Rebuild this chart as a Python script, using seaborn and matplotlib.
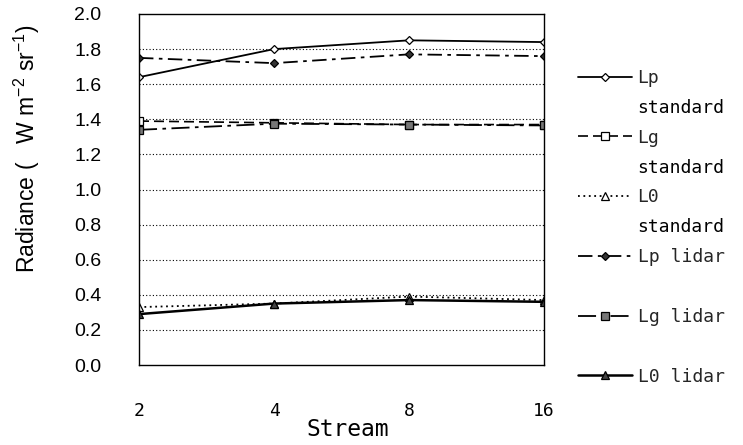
import numpy as np
import pandas as pd
import matplotlib
matplotlib.use("Agg")
import matplotlib.pyplot as plt
import seaborn as sns

# ---- data ----
streams = [2, 4, 8, 16]
lp_standard = [1.64, 1.80, 1.85, 1.84]
lg_standard = [1.39, 1.38, 1.37, 1.37]
l0_standard = [0.33, 0.35, 0.39, 0.37]
lp_lidar = [1.75, 1.72, 1.77, 1.76]
lg_lidar = [1.34, 1.375, 1.37, 1.365]
l0_lidar = [0.29, 0.35, 0.37, 0.36]
series_names = ["Lp\nstandard", "Lg\nstandard", "L0\nstandard",
                "Lp lidar", "Lg lidar", "L0 lidar"]
y_ticks = [0.0, 0.2, 0.4, 0.6, 0.8, 1.0, 1.2, 1.4, 1.6, 1.8, 2.0]
x_tick_labels = ["2", "4", "8", "16"]

all_values = [lp_standard, lg_standard, l0_standard, lp_lidar, lg_lidar, l0_lidar]
df = pd.DataFrame({
    "Stream": streams * len(series_names),
    "Radiance": sum(all_values, []),
    "Series": sum([[n] * len(streams) for n in series_names], []),
})

styles = {
    "Lp\nstandard": dict(ls="-", marker="D", ms=4.5, mfc="white", mec="black", lw=1.3),
    "Lg\nstandard": dict(ls=(0, (6, 3)), marker="s", ms=6, mfc="white", mec="black", lw=1.2),
    "L0\nstandard": dict(ls=(0, (1, 2)), marker="^", ms=6, mfc="white", mec="black", lw=1.3),
    "Lp lidar": dict(ls=(0, (8, 3, 2, 3)), marker="D", ms=4.5, mfc="#333333", mec="black", lw=1.3),
    "Lg lidar": dict(ls=(0, (10, 3, 2, 3)), marker="s", ms=6, mfc="#777777", mec="black", lw=1.3),
    "L0 lidar": dict(ls="-", marker="^", ms=6, mfc="#444444", mec="black", lw=1.8),
}

sns.set_theme(style="white")
plt.rcParams["font.family"] = ["Liberation Sans", "DejaVu Sans"]
plt.rcParams["mathtext.default"] = "regular"

fig = plt.figure(figsize=(7.43, 4.45), dpi=100)
ax = fig.add_axes([139 / 743, 80 / 445, (544 - 139) / 743, (365 - 14) / 445])
ax.set_xscale("log", base=2)

for name in series_names:
    st = styles[name]
    sub = df[df["Series"] == name]
    sns.lineplot(data=sub, x="Stream", y="Radiance", ax=ax, color="black",
                 linestyle=st["ls"], linewidth=st["lw"], marker=st["marker"],
                 markersize=st["ms"], markerfacecolor=st["mfc"],
                 markeredgecolor=st["mec"], markeredgewidth=0.9,
                 label=name.split("\n")[0], legend=False)

ax.set_xlim(2, 16)
ax.set_ylim(0, 2.0)
ax.set_yticks(y_ticks)
ax.set_yticklabels([f"{v:.1f}" for v in y_ticks])
ax.set_xticks(streams)
ax.set_xticklabels(x_tick_labels, family=["DejaVu Sans Mono"], fontsize=13)
ax.xaxis.set_minor_locator(matplotlib.ticker.NullLocator())
ax.tick_params(axis="x", direction="in", length=4, width=0.8, pad=27, colors="black")
ax.tick_params(axis="y", length=0, pad=27, labelcolor="black")
for t in ax.get_yticklabels():
    t.set_fontsize(14)

for v in y_ticks[1:-1]:
    ax.axhline(v, color="black", lw=0.8, ls=(0, (1, 2)), zorder=0)

for s in ax.spines.values():
    s.set_color("black")
    s.set_linewidth(1.0)

ax.set_xlabel("Stream", family=["DejaVu Sans Mono"], fontsize=16.5, color="black")
ax.xaxis.set_label_coords((348 - 139) / 405, -(418 - 365) / 351)
ax.xaxis.label.set_va("top")
ax.set_ylabel("Radiance (   W m$^{-2}$ sr$^{-1}$)", fontsize=16.5, color="black")
ax.yaxis.set_label_coords((42 - 139) / 405, (365 - 149) / 351)

handles, labels = ax.get_legend_handles_labels()
leg = fig.legend(handles, labels, loc="upper left",
                 bbox_to_anchor=(578 / 743, 1 - 69 / 445), frameon=False,
                 prop={"family": "DejaVu Sans Mono", "size": 13},
                 handlelength=3.0, handletextpad=0.3, labelspacing=2.31,
                 borderpad=0, borderaxespad=0)

# second lines of the two-line legend labels
fig.canvas.draw()
for txt, name in zip(leg.get_texts(), series_names):
    parts = name.split("\n")
    if len(parts) > 1:
        bb = txt.get_window_extent()
        x0, y0 = fig.transFigure.inverted().transform((bb.x0, bb.y0))
        fig.text(x0, y0 - 12 / 445, parts[1], family="DejaVu Sans Mono",
                 fontsize=13, va="top", ha="left", color="black")

fig.savefig("out.png", dpi=100)
